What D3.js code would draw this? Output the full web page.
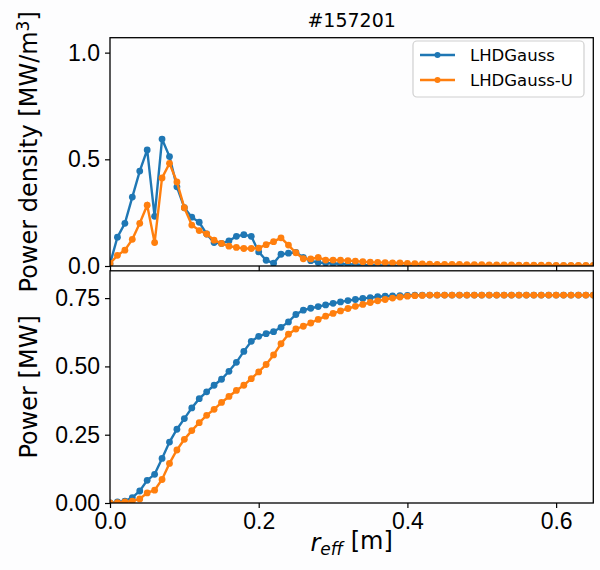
<!DOCTYPE html>
<meta charset="utf-8">
<script src="https://cdn.jsdelivr.net/npm/d3@7"></script>
<style>
  body { margin: 0; background: #fdfdfe; }
  svg { display: block; font-family: "DejaVu Sans", sans-serif; }
  .axis text { font-size: 23px; fill: #000; }
  .axis line { stroke: #000; stroke-width: 1.2; }
</style>
<body>
<script>

// r_eff grid [m]
var reff = [0.00, 0.01, 0.02, 0.03, 0.04, 0.05, 0.06, 0.07, 0.08, 0.09,
            0.10, 0.11, 0.12, 0.13, 0.14, 0.15, 0.16, 0.17, 0.18, 0.19,
            0.20, 0.21, 0.22, 0.23, 0.24, 0.25, 0.26, 0.27, 0.28, 0.29,
            0.30, 0.31, 0.32, 0.33, 0.34, 0.35, 0.36, 0.37, 0.38, 0.39,
            0.40, 0.41, 0.42, 0.43, 0.44, 0.45, 0.46, 0.47, 0.48, 0.49,
            0.50, 0.51, 0.52, 0.53, 0.54, 0.55, 0.56, 0.57, 0.58, 0.59,
            0.60, 0.61, 0.62, 0.63, 0.64, 0.65]

// power density [MW/m3]
var dens_gauss = [0.010, 0.135, 0.200, 0.323, 0.445, 0.544, 0.233, 0.595, 0.513, 0.371,
                  0.273, 0.229, 0.205, 0.150, 0.110, 0.106, 0.118, 0.139, 0.147, 0.139,
                  0.066, 0.027, 0.013, 0.055, 0.060, 0.064, 0.040, 0.025, 0.016, 0.014,
                  0.012, 0.010, 0.008, 0.006, 0.005, 0.004, 0.003, 0.002, 0.001, 0,
                  0, 0, 0, 0, 0, 0, 0, 0, 0, 0,
                  0, 0, 0, 0, 0, 0, 0, 0, 0, 0,
                  0, 0, 0, 0, 0, 0]
var dens_gauss_u = [0.012, 0.050, 0.074, 0.125, 0.200, 0.285, 0.110, 0.413, 0.481, 0.394,
                    0.273, 0.192, 0.166, 0.150, 0.121, 0.106, 0.093, 0.087, 0.082, 0.082,
                    0.084, 0.100, 0.114, 0.132, 0.098, 0.062, 0.034, 0.033, 0.040, 0.028,
                    0.028, 0.027, 0.025, 0.023, 0.020, 0.018, 0.017, 0.016, 0.015, 0.014,
                    0.012, 0.011, 0.010, 0.009, 0.008, 0.008, 0.007, 0.007, 0.006, 0.006,
                    0.006, 0.005, 0.005, 0.005, 0.005, 0.004, 0.004, 0.004, 0.004, 0.004,
                    0.003, 0.003, 0.003, 0.003, 0.003, 0.003]

// integrated power [MW]
var pow_gauss = [0, 0.004, 0.007, 0.020, 0.044, 0.083, 0.105, 0.163, 0.223, 0.270,
                 0.309, 0.348, 0.382, 0.407, 0.431, 0.453, 0.482, 0.515, 0.555, 0.592,
                 0.610, 0.620, 0.627, 0.643, 0.663, 0.690, 0.706, 0.713, 0.719, 0.725,
                 0.731, 0.736, 0.741, 0.745, 0.749, 0.752, 0.755, 0.757, 0.758, 0.759,
                 0.760, 0.761, 0.761, 0.761, 0.761, 0.761, 0.761, 0.761, 0.761, 0.761,
                 0.761, 0.761, 0.761, 0.761, 0.761, 0.761, 0.761, 0.761, 0.761, 0.761,
                 0.761, 0.761, 0.761, 0.761, 0.761, 0.761]
var pow_gauss_u = [0, 0.001, 0.004, 0.007, 0.015, 0.037, 0.047, 0.086, 0.145, 0.194,
                   0.233, 0.265, 0.294, 0.321, 0.343, 0.368, 0.390, 0.412, 0.431, 0.455,
                   0.480, 0.507, 0.542, 0.583, 0.618, 0.637, 0.647, 0.659, 0.672, 0.684,
                   0.694, 0.703, 0.712, 0.720, 0.727, 0.734, 0.740, 0.745, 0.750, 0.754,
                   0.757, 0.759, 0.760, 0.761, 0.761, 0.761, 0.761, 0.761, 0.761, 0.761,
                   0.761, 0.761, 0.761, 0.761, 0.761, 0.761, 0.761, 0.761, 0.761, 0.761,
                   0.761, 0.761, 0.761, 0.761, 0.761, 0.761]

var series_names = ["LHDGauss", "LHDGauss-U"]
var colors = ["#1f77b4", "#ff7f0e"]

var x_ticks = [0.0, 0.2, 0.4, 0.6]
var top_ticks = [0.0, 0.5, 1.0]
var bot_ticks = [0.00, 0.25, 0.50, 0.75]

var width = 600
var height = 570

var x = d3.scaleLinear().domain([0, 0.65]).range([110, 593.3])
var y_top = d3.scaleLinear().domain([0, 1.07]).range([266, 37.7])
var y_bot = d3.scaleLinear().domain([0, 0.85]).range([503, 270.8])

var svg = d3.select("body").append("svg")
            .attr("width", width)
            .attr("height", height)

function panel(id, y, data, ticks, fmt, showX) {
  var g = svg.append("g").attr("id", id)
  var x0 = x.range()[0], x1 = x.range()[1]
  var y0 = y.range()[1], y1 = y.range()[0]

  g.append("clipPath").attr("id", "clip-" + id)
   .append("rect").attr("x", x0).attr("y", y0).attr("width", x1 - x0).attr("height", y1 - y0)

  var plot = g.append("g").attr("clip-path", "url(#clip-" + id + ")")
  data.forEach(function(vals, k) {
    var line = d3.line().x(function(d, i) { return x(reff[i]) }).y(function(d) { return y(d) })
    plot.append("path").attr("d", line(vals))
        .attr("fill", "none").attr("stroke", colors[k]).attr("stroke-width", 2.4)
    plot.selectAll(null).data(vals).enter().append("circle")
        .attr("cx", function(d, i) { return x(reff[i]) })
        .attr("cy", function(d) { return y(d) })
        .attr("r", 3.4)
        .attr("fill", colors[k])
  })

  var ya = g.append("g").attr("class", "axis")
            .attr("transform", "translate(" + x0 + ",0)")
            .call(d3.axisLeft(y).tickValues(ticks).tickFormat(d3.format(fmt)).tickSize(5).tickPadding(5))
  ya.select(".domain").remove()

  var xa = g.append("g").attr("class", "axis")
            .attr("transform", "translate(0," + y1 + ")")
            .call(d3.axisBottom(x).tickValues(x_ticks).tickFormat(d3.format(".1f")).tickSize(5).tickPadding(5))
  xa.select(".domain").remove()
  if (!showX) xa.selectAll("text").remove()

  g.append("rect").attr("x", x0).attr("y", y0).attr("width", x1 - x0).attr("height", y1 - y0)
   .attr("fill", "none").attr("stroke", "#000").attr("stroke-width", 1.3)
}

panel("top", y_top, [dens_gauss, dens_gauss_u], top_ticks, ".1f", false)
panel("bot", y_bot, [pow_gauss, pow_gauss_u], bot_ticks, ".2f", true)

// title
svg.append("text")
   .attr("x", (x.range()[0] + x.range()[1]) / 2).attr("y", 27)
   .attr("text-anchor", "middle").style("font-size", "19px")
   .text("#157201")

// y labels
var yl1 = svg.append("text")
   .attr("transform", "translate(37," + (y_top.range()[0] + y_top.range()[1]) / 2 + ") rotate(-90)")
   .attr("text-anchor", "middle").style("font-size", "24px")
yl1.append("tspan").text("Power density [MW/m")
yl1.append("tspan").attr("dy", "-0.45em").style("font-size", "17px").text("3")
yl1.append("tspan").attr("dy", "0.32em").text("]")

svg.append("text")
   .attr("transform", "translate(37," + (y_bot.range()[0] + y_bot.range()[1]) / 2 + ") rotate(-90)")
   .attr("text-anchor", "middle").style("font-size", "24px")
   .text("Power [MW]")

// x label
var xl = svg.append("text")
   .attr("x", (x.range()[0] + x.range()[1]) / 2).attr("y", 551)
   .attr("text-anchor", "middle").style("font-size", "24px")
xl.append("tspan").style("font-style", "italic").text("r")
xl.append("tspan").attr("dy", "0.25em").style("font-style", "italic").style("font-size", "17px").text("eff")
xl.append("tspan").attr("dy", "-0.25em").text(" [m]")

// legend
var leg = svg.append("g").attr("id", "legend")
leg.append("rect").attr("x", 413).attr("y", 41).attr("width", 171).attr("height", 56)
   .attr("rx", 4).attr("fill", "#fff").attr("fill-opacity", 0.8)
   .attr("stroke", "#d0d0d0").attr("stroke-width", 1.2)
series_names.forEach(function(name, k) {
  var yy = 55 + k * 25
  leg.append("line").attr("x1", 420).attr("x2", 455).attr("y1", yy).attr("y2", yy)
     .attr("stroke", colors[k]).attr("stroke-width", 2.4)
  leg.append("circle").attr("cx", 437.5).attr("cy", yy).attr("r", 3).attr("fill", colors[k])
  leg.append("text").attr("x", 470).attr("y", yy + 6).style("font-size", "16.5px").text(name)
})

</script>
</body>
